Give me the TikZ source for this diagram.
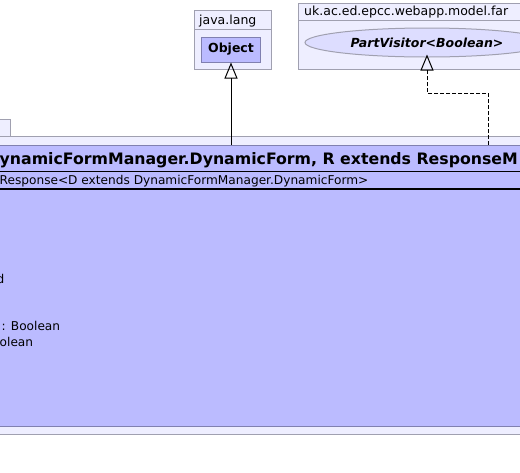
\documentclass[tikz,border=0pt]{standalone}
\usepackage{fontspec}
\setmainfont{DejaVu Sans}
\usetikzlibrary{arrows.meta,shapes.geometric,positioning}
\definecolor{classfill}{RGB}{187,187,255}
\definecolor{pkgfill}{RGB}{238,238,255}
\definecolor{pkgline}{RGB}{160,160,176}
\definecolor{classline}{RGB}{128,128,176}
\definecolor{ovalfill}{RGB}{221,221,255}
\tikzstyle{generalize} = [line width=1pt, -{Triangle[open,length=16pt,width=13pt]}]
\tikzstyle{realize} = [generalize, dash pattern=on 4pt off 2pt]
\tikzset{
    package/.style={
        draw=pkgline, fill=pkgfill, line width=1pt
    },
    pkgname/.style={
        anchor=base west, inner sep=0pt,
        font=\fontsize{12.5}{14}\selectfont
    },
    classbox/.style={
        rectangle, draw=classline, fill=classfill, line width=1pt,
        minimum width=59pt, minimum height=25pt, inner sep=0pt,
        font=\fontsize{12.5}{14}\selectfont\bfseries
    },
    interface/.style={
        ellipse, draw=pkgline, fill=ovalfill, line width=1pt,
        minimum width=244pt, minimum height=29pt, inner sep=0pt,
        font=\fontsize{12.5}{14}\selectfont\bfseries\itshape
    },
    member/.style={
        anchor=base west, inner sep=0pt,
        font=\fontsize{12.15}{14}\selectfont
    }
}
\begin{document}
\begin{tikzpicture}[x=1pt, y=-1pt]
    \useasboundingbox (0,0) rectangle (520,472);
    \clip (0,0) rectangle (520,472);
    % packages on top
    \draw[package] (194,10) rectangle (271,69);
    \draw[pkgline, line width=1pt] (194,29) -- (271,29);
    \node[pkgname] (javalang) at (199,24.5) {java.lang};
    \draw[package] (298,3) rectangle (530,69);
    \draw[pkgline, line width=1pt] (298,20) -- (530,20);
    \node[pkgname] (farpkg) at (304,15) {uk.ac.ed.epcc.webapp.model.far};
    \node[classbox] (object) at (231,49.5) {Object};
    \node[interface] (visitor) at (427,42.5) {PartVisitor<Boolean>};
    % enclosing package and class
    \draw[package] (-10,119) rectangle (10,136);
    \draw[package] (-10,136) rectangle (530,434);
    \draw[classline, fill=classfill, line width=1pt] (-10,145) rectangle (530,426);
    \draw[line width=1pt] (-10,171) -- (530,171);
    \draw[line width=2pt] (-10,189) -- (530,189);
    \node[anchor=base west, inner sep=0pt, font=\fontsize{15.75}{17}\selectfont\bfseries]
        (formname) at (-0.5,164) {ynamicFormManager.DynamicForm, R extends ResponseM};
    \node[member] (formsuper) at (-0.5,184) {Response<D extends DynamicFormManager.DynamicForm>};
    \node[member] (fieldd) at (-3.5,283) {d};
    \node[member] (fieldbool) at (1.5,330) {: Boolean};
    \node[member] (fieldolean) at (-0.5,346) {olean};
    \coordinate (form-a) at (231,145);
    \coordinate (form-b) at (488,145);
    \coordinate (bend) at (488,93);
    % connectors
    \draw[generalize] (form-a) -- (object.south);
    \draw[realize] (form-b) -- (bend) -| ([yshift=3pt]visitor.south);
\end{tikzpicture}
\end{document}
